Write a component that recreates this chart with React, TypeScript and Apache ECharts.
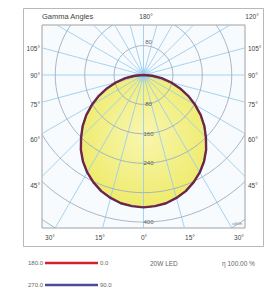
import React, { useEffect, useRef } from "react";
import * as echarts from "echarts";

// ---- data ----
const gammaAngles = [0, 5, 10, 15, 20, 25, 30, 35, 40, 45, 50, 55, 60, 65, 70, 75, 80, 85, 90];
const intensityC0C180 = [360, 358, 354, 346, 336, 322, 306, 287, 265, 240, 216, 190, 162, 134, 105, 77, 50, 24, 0];
const intensityC90C270 = [360, 358, 354, 346, 336, 322, 306, 287, 265, 240, 216, 190, 162, 134, 105, 77, 50, 24, 0];
const ringValues = [80, 160, 240, 320, 400, 480, 560];
const ringLabelsDown = [80, 160, 240, 400];
const ringLabelsUp = [80];
const spokeAngles = [0, 15, 30, 45, 60, 75, 90, 105, 120, 135, 150, 165, 180, 195, 210, 225, 240, 255, 270, 285, 300, 315, 330, 345];
const leftLabels = ["105°", "90°", "75°", "60°", "45°"];
const rightLabels = ["105°", "90°", "75°", "60°", "45°"];
const bottomLabels = ["30°", "15°", "0°", "15°", "30°"];
const topLabels = ["Gamma Angles", "180°", "120°"];
const planeFrom = ["180.0", "270.0"];
const planeTo = ["0.0", "90.0"];
const lampName = "20W LED";
const efficiency = "η 100.00 %";
const unitText = "cd/klm";

// ---- helpers ----
const rad = (d: number) => (d * Math.PI) / 180;
function planePoints(vals: number[]): number[][] {
  const right: number[][] = [];
  for (let i = gammaAngles.length - 1; i >= 0; i--) {
    const g = rad(gammaAngles[i]);
    right.push([vals[i] * Math.sin(g), -vals[i] * Math.cos(g)]);
  }
  const left: number[][] = [];
  for (let i = 1; i < gammaAngles.length; i++) {
    const g = rad(gammaAngles[i]);
    left.push([-vals[i] * Math.sin(g), -vals[i] * Math.cos(g)]);
  }
  return right.concat(left);
}

const FONT = "'Liberation Sans', Arial, sans-serif";
const TXT = "#444";

export default function App() {
  const ref = useRef<HTMLDivElement>(null);
  useEffect(() => {
    if (!ref.current) return;
    const chart = echarts.init(ref.current, undefined, { renderer: "svg" });
    const ptsA = planePoints(intensityC0C180);
    const ptsB = planePoints(intensityC90C270);

    const leftY = [48, 75, 104, 139, 185];
    const bottomX = [50, 100, 144, 190, 239];

    const graphic: any[] = [
      {
        type: "rect",
        shape: { x: 23.5, y: 8.5, width: 240, height: 238 },
        style: { fill: "none", stroke: "#b8b8b8", lineWidth: 1 },
        silent: true,
      },
      {
        type: "text", x: 42, y: 16,
        style: { text: topLabels[0], font: `7.5px ${FONT}`, fill: TXT, textVerticalAlign: "middle" },
      },
      {
        type: "text", x: 146, y: 16,
        style: { text: topLabels[1], font: `6.5px ${FONT}`, fill: TXT, textAlign: "center", textVerticalAlign: "middle" },
      },
      {
        type: "text", x: 252, y: 16,
        style: { text: topLabels[2], font: `6.5px ${FONT}`, fill: TXT, textAlign: "center", textVerticalAlign: "middle" },
      },
      {
        type: "text", x: 232, y: 224,
        style: { text: unitText, font: `3.5px ${FONT}`, fill: "#777", textVerticalAlign: "middle" },
      },
    ];
    leftLabels.forEach((t, i) =>
      graphic.push({
        type: "text", x: 40, y: leftY[i],
        style: { text: t, font: `6.5px ${FONT}`, fill: TXT, textAlign: "right", textVerticalAlign: "middle" },
      })
    );
    rightLabels.forEach((t, i) =>
      graphic.push({
        type: "text", x: 248, y: leftY[i],
        style: { text: t, font: `6.5px ${FONT}`, fill: TXT, textAlign: "left", textVerticalAlign: "middle" },
      })
    );
    bottomLabels.forEach((t, i) =>
      graphic.push({
        type: "text", x: bottomX[i], y: 237,
        style: { text: t, font: `6.5px ${FONT}`, fill: TXT, textAlign: "center", textVerticalAlign: "middle" },
      })
    );
    const legendColors = ["#d41f2e", "#4b4b9e"];
    const legendY = [263, 285];
    planeFrom.forEach((t, i) => {
      graphic.push({
        type: "text", x: 43, y: legendY[i],
        style: { text: t, font: `6px ${FONT}`, fill: "#666", textAlign: "right", textVerticalAlign: "middle" },
      });
      graphic.push({
        type: "line", shape: { x1: 45, y1: legendY[i], x2: 98, y2: legendY[i] },
        style: { stroke: legendColors[i], lineWidth: 2.5 },
      });
      graphic.push({
        type: "text", x: 100, y: legendY[i],
        style: { text: planeTo[i], font: `6px ${FONT}`, fill: "#666", textAlign: "left", textVerticalAlign: "middle" },
      });
    });
    graphic.push({
      type: "text", x: 150, y: 263,
      style: { text: lampName, font: `6.5px ${FONT}`, fill: "#666", textVerticalAlign: "middle" },
    });
    graphic.push({
      type: "text", x: 222, y: 263,
      style: { text: efficiency, font: `6.5px ${FONT}`, fill: "#666", textVerticalAlign: "middle" },
    });

    const option: any = {
      animation: false,
      backgroundColor: "#ffffff",
      grid: {
        left: 42, top: 25, width: 203, height: 203,
        show: true, backgroundColor: "#f8fbfe", borderColor: "#a0a0a0", borderWidth: 1,
      },
      xAxis: { type: "value", min: -276, max: 276, show: false },
      yAxis: { type: "value", min: -416, max: 136, show: false },
      graphic,
      series: [
        {
          type: "custom", name: "fill", coordinateSystem: "cartesian2d", clip: true, silent: true, z: 1,
          data: [[0, 0]],
          renderItem: (_p: any, api: any) => {
            const pts = ptsA.map((p) => api.coord(p));
            const c = api.coord([0, 0]);
            return {
              type: "group",
              children: [
                {
                  type: "polygon",
                  shape: { points: pts },
                  style: {
                    fill: new echarts.graphic.RadialGradient(0.5, 0.45, 0.6, [
                      { offset: 0, color: "#f8f6b0" },
                      { offset: 1, color: "#eeea66" },
                    ]),
                  },
                },
                {
                  type: "circle",
                  shape: { cx: c[0], cy: c[1], r: 9 },
                  style: {
                    fill: new echarts.graphic.RadialGradient(0.5, 0.5, 0.5, [
                      { offset: 0, color: "rgba(120,190,240,0.7)" },
                      { offset: 1, color: "rgba(120,190,240,0)" },
                    ]),
                  },
                },
              ],
            };
          },
        },
        {
          type: "custom", name: "spokes", coordinateSystem: "cartesian2d", clip: true, silent: true, z: 2,
          data: spokeAngles.map((a) => [a, 0]),
          renderItem: (_p: any, api: any) => {
            const g = rad(api.value(0));
            const c = api.coord([0, 0]);
            const e = api.coord([1000 * Math.sin(g), -1000 * Math.cos(g)]);
            return {
              type: "line",
              shape: { x1: c[0], y1: c[1], x2: e[0], y2: e[1] },
              style: { stroke: "#9ccdee", lineWidth: 0.9 },
            };
          },
        },
        {
          type: "custom", name: "rings", coordinateSystem: "cartesian2d", clip: true, silent: true, z: 2,
          data: ringValues.map((r) => [0, 0, r]),
          renderItem: (_p: any, api: any) => {
            const c = api.coord([0, 0]);
            const r = api.size([api.value(2), 0])[0];
            return {
              type: "circle",
              shape: { cx: c[0], cy: c[1], r },
              style: { fill: "none", stroke: "#9dafc2", lineWidth: 0.9 },
            };
          },
        },
        {
          type: "line", name: "C90-C270", data: ptsB, showSymbol: false, z: 3,
          lineStyle: { color: "#3c3c8c", width: 2.4 },
        },
        {
          type: "line", name: "C0-C180", data: ptsA, showSymbol: false, z: 4,
          lineStyle: { color: "#8a1c24", width: 1.4 },
        },
        {
          type: "scatter", name: "ringLabels", symbolSize: 0, z: 5, silent: true,
          data: ringLabelsDown.map((v) => [0, -v]).concat(ringLabelsUp.map((v) => [0, v + 10])),
          label: {
            show: true,
            position: "inside",
            offset: [5, 0],
            formatter: (p: any) => String(p.value[1] < 0 ? -p.value[1] : p.value[1] - 10),
            fontSize: 6,
            fontFamily: FONT,
            color: "#333",
          },
        },
      ],
    };
    chart.setOption(option);
    return () => chart.dispose();
  }, []);
  return (
    <div
      ref={ref}
      style={{ position: "absolute", left: 0, top: 0, width: 274, height: 296 }}
    />
  );
}
